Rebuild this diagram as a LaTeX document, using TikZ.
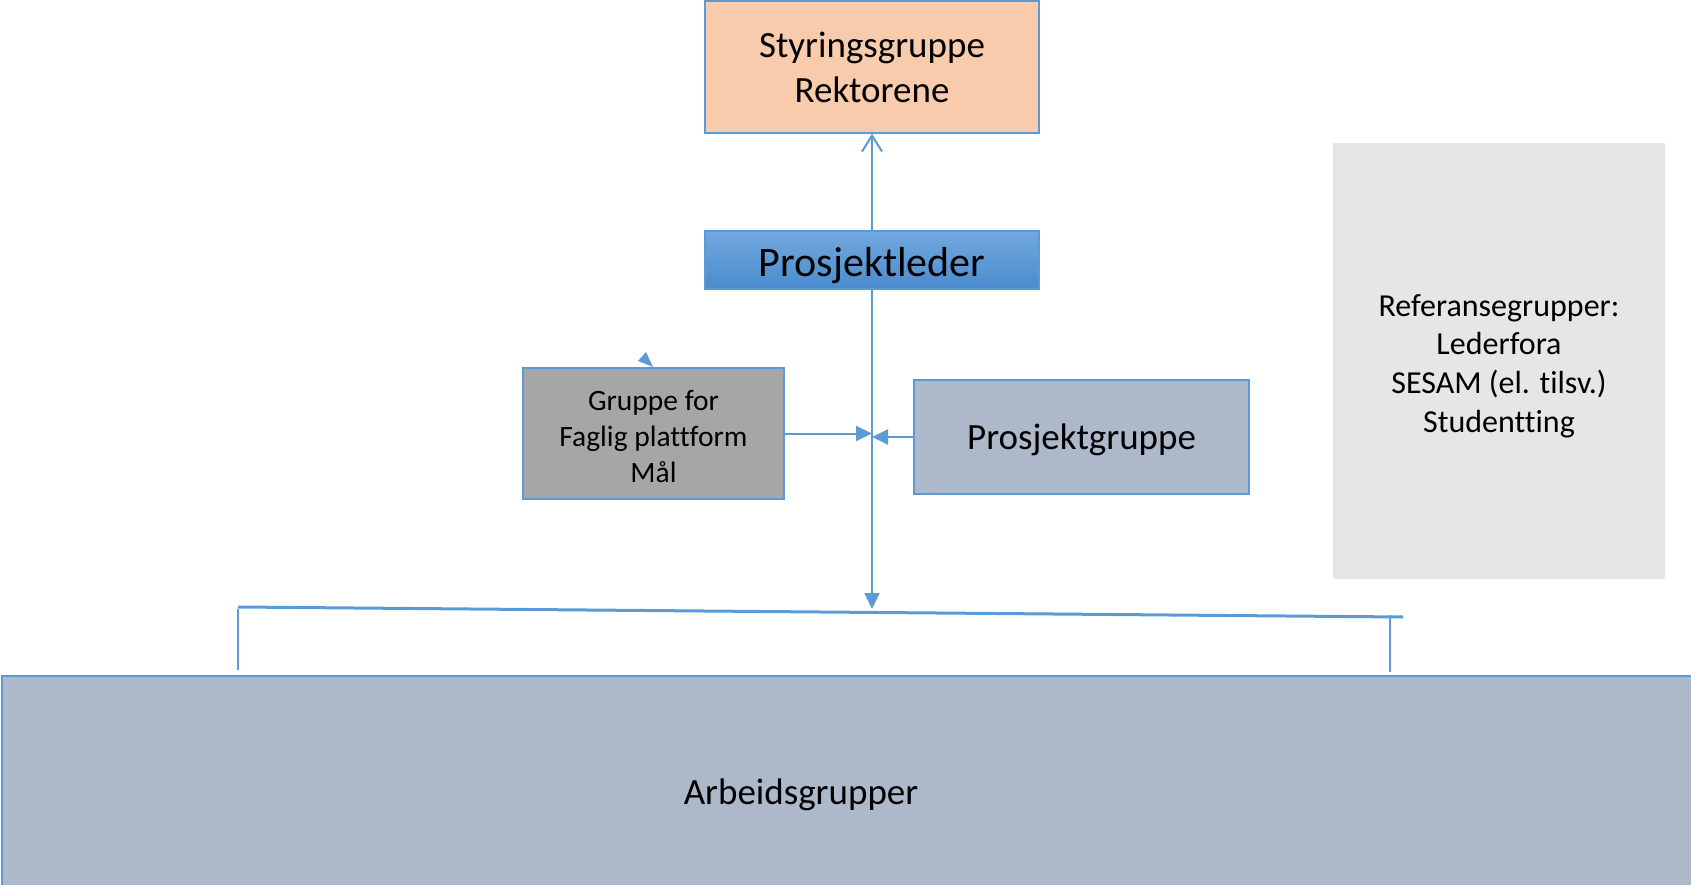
\documentclass[tikz,border=0pt]{standalone}
\usepackage{fontspec}
\setmainfont{Carlito}[Ligatures=NoCommon]
\usetikzlibrary{arrows.meta}

\definecolor{lineblue}{HTML}{5B9BD5}
\definecolor{peach}{HTML}{F8CBAD}
\definecolor{slate}{HTML}{ADB9CA}
\definecolor{midgrey}{HTML}{A6A6A6}
\definecolor{lightgrey}{HTML}{E6E6E6}
\definecolor{pltop}{HTML}{72A9DF}
\definecolor{plbot}{HTML}{4A8BCD}

\tikzset{
  box/.style={draw=lineblue, line width=1.3pt, align=center, inner sep=0pt},
  link/.style={lineblue, line width=2pt},
  tipfill/.style={link, -{Triangle[length=16pt, width=15pt]}},
  tipopen/.style={link, -{Straight Barb[length=16pt, width=20pt, line width=2pt]}},
}

\begin{document}
\begin{tikzpicture}[x=1pt, y=-1pt]
    \useasboundingbox (0,0) rectangle (1691,885);

    \node[box, fill=peach, minimum width=334pt, minimum height=132pt, text height=72pt, text depth=0pt,
          font=\fontsize{37}{45}\selectfont] (sg) at (872,67) {Styringsgruppe\\Rektorene};
    \node[box, top color=pltop, bottom color=plbot, minimum width=334pt, minimum height=58pt,
          text height=33pt, text depth=0pt, font=\fontsize{42}{46}\selectfont] (pl) at (872,260) {Prosjektleder};
    \node[box, fill=midgrey, minimum width=261pt, minimum height=131pt, text height=97pt, text depth=0pt,
          font=\fontsize{29.5}{35.7}\selectfont] (gf) at (653.5,433.5) {Gruppe for\\Faglig plattform\\Mål};
    \node[box, fill=slate, minimum width=335pt, minimum height=114pt, text height=24pt, text depth=0pt,
          font=\fontsize{37}{42}\selectfont] (pg) at (1081.5,437) {Prosjektgruppe};
    \node[fill=lightgrey, minimum width=332pt, minimum height=436pt, align=center, inner sep=0pt,
          text height=143pt, text depth=0pt, font=\fontsize{32}{38.8}\selectfont] (rg) at (1499,361)
          {Referansegrupper:\\Lederfora\\SESAM (el. tilsv.)\\Studentting};

    % arbeidsgrupper
    \fill[slate] (2,676) rectangle (1700,900);
    \draw[lineblue, line width=1.3pt] (2,900) -- (2,676) -- (1700,676);
    \node[text height=24pt, text depth=0pt, inner sep=0pt, font=\fontsize{37}{42}\selectfont] (ag) at (801,792) {Arbeidsgrupper};

    % fordeling
    \coordinate (bl) at (238,607);
    \coordinate (br) at (1403,617);
    \coordinate (hub) at (872,609);
    \draw[lineblue, line width=3pt] (bl) -- (br);
    \draw[lineblue, line width=1.8pt] (238,609) -- (238,670);
    \draw[lineblue, line width=1.8pt] (1390,615) -- (1390,672);

    \draw[tipopen] (pl.north) -- (sg.south);
    \draw[tipfill] (pl.south) -- (hub);
    \draw[tipfill] (gf.east) -- (gf.east -| pl.south);
    \draw[tipfill] (pg.west) -- (pg.west -| pl.south);

    \fill[lineblue] (638,361) -- (646,352) -- (653,367) -- cycle;
\end{tikzpicture}
\end{document}
